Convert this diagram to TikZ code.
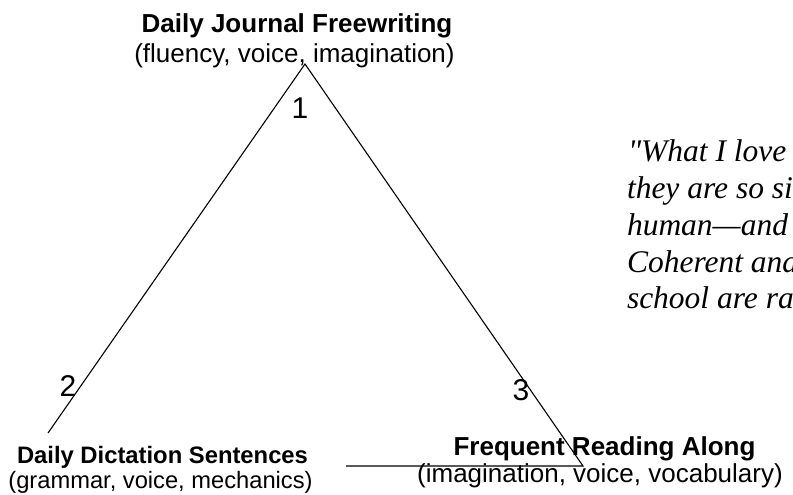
\documentclass[tikz,border=0pt]{standalone}
\usepackage{fontspec}
\setmainfont{Liberation Sans}
\newfontfamily\quotefont{Liberation Serif}
\begin{document}
\begin{tikzpicture}[x=1pt,y=-1pt,
  lbl/.style={inner sep=0pt, outer sep=0pt, anchor=base},
  headbig/.style={lbl, font=\fontsize{26}{30}\selectfont\bfseries},
  subbig/.style={lbl, font=\fontsize{26}{30}\selectfont},
  headsmall/.style={lbl, font=\fontsize{23.8}{28}\selectfont\bfseries},
  subsmall/.style={lbl, font=\fontsize{23.7}{28}\selectfont},
  numlbl/.style={lbl, font=\fontsize{30}{34}\selectfont},
  quoteline/.style={inner sep=0pt, outer sep=0pt, anchor=base west, font=\fontsize{31.5}{36}\selectfont\quotefont\itshape},
  edge/.style={line width=1.1pt, black}]
\clip (0,0) rectangle (793,495);
\fill[white] (0,0) rectangle (793,495);

% triangle corners
\coordinate (apex) at (305,64);
\coordinate (bl) at (48,433);
\coordinate (br) at (583,466);
\coordinate (bs) at (346,466);
\draw[edge] (bl) -- (apex) -- (br) -- (bs);

% top label
\node[headbig] (toph) at (297,33) {Daily Journal Freewriting};
\node[subbig] (tops) at (294.5,63) {(fluency, voice, imagination)};

% bottom-left label
\node[headsmall] (blh) at (162.5,463) {Daily Dictation Sentences};
\node[subsmall] (bls) at (160.5,488) {(grammar, voice, mechanics)};

% bottom-right label
\node[headbig] (brh) at (604.5,455) {Frequent Reading Along};
\node[subbig] (brs) at (600,482) {(imagination, voice, vocabulary)};

% numbers
\node[numlbl] (n1) at (300,118) {1};
\node[numlbl] (n2) at (68,396) {2};
\node[numlbl] (n3) at (521,400) {3};

% quote (cut off at the right edge)
\node[quoteline] (q1) at (628,161) {"What I love};
\node[quoteline] (q2) at (627,198) {they are so si};
\node[quoteline] (q3) at (627,235) {human—and};
\node[quoteline] (q4) at (627,272) {Coherent and};
\node[quoteline] (q5) at (627,308) {school are ra};
\end{tikzpicture}
\end{document}
